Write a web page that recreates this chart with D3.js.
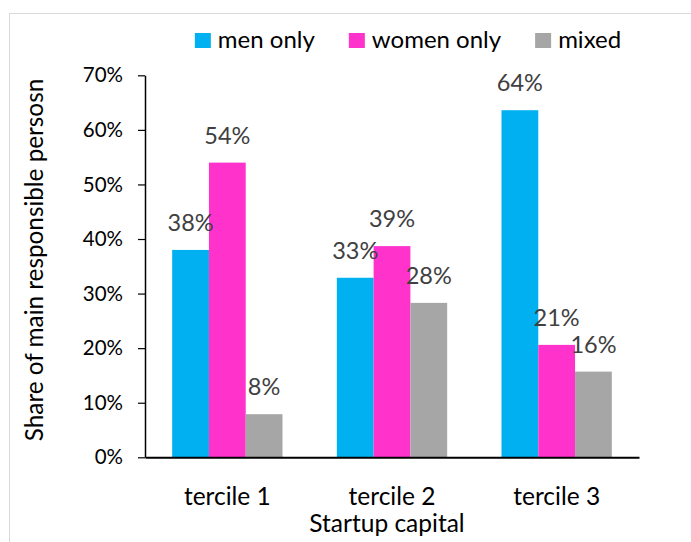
<!DOCTYPE html>
<html>
<head>
<meta charset="utf-8">
<script src="https://cdn.jsdelivr.net/npm/d3@7"></script>
<style>
  html, body { margin: 0; padding: 0; background: #fff; }
  svg { display: block; font-family: Lato, "Open Sans", sans-serif; }
</style>
</head>
<body>
<svg id="chart" width="691" height="542"></svg>
<script>
// ---- data ----
const categories = ["tercile 1", "tercile 2", "tercile 3"];
const seriesNames = ["men only", "women only", "mixed"];
const menOnly   = [0.380, 0.329, 0.636];
const womenOnly = [0.540, 0.387, 0.206];
const mixed     = [0.079, 0.283, 0.157];
const yTicks = [0, 0.1, 0.2, 0.3, 0.4, 0.5, 0.6, 0.7];
const colors = ["#00B0F0", "#FF33CC", "#A6A6A6"];
const xTitle = "Startup capital";
const yTitle = "Share of main responsible persosn";

const seriesValues = [menOnly, womenOnly, mixed];
const rows = categories.map((c, i) => ({
  category: c,
  values: seriesNames.map((s, j) => ({ series: s, value: seriesValues[j][i] }))
}));

const svg = d3.select("#chart");

// outer frame
svg.append("rect")
  .attr("x", 9.5).attr("y", 13.5)
  .attr("width", 700).attr("height", 560)
  .attr("fill", "none").attr("stroke", "#D9D9D9").attr("stroke-width", 1);

const plot = { left: 145, right: 639, top: 75.3, bottom: 457.3 };

const x0 = d3.scaleBand()
  .domain(categories)
  .range([plot.left, plot.right])
  .paddingInner(0.33)
  .paddingOuter(0.165);

const x1 = d3.scaleBand()
  .domain(seriesNames)
  .range([0, x0.bandwidth()])
  .padding(0);

const y = d3.scaleLinear()
  .domain([0, 0.7])
  .range([plot.bottom, plot.top]);

const color = d3.scaleOrdinal().domain(seriesNames).range(colors);

// bars
const groups = svg.append("g").selectAll("g")
  .data(rows).join("g")
  .attr("transform", d => `translate(${x0(d.category)},0)`);

groups.selectAll("rect")
  .data(d => d.values).join("rect")
  .attr("x", d => x1(d.series))
  .attr("y", d => y(d.value))
  .attr("width", x1.bandwidth())
  .attr("height", d => y(0) - y(d.value))
  .attr("fill", d => color(d.series));

// data labels
groups.selectAll("text")
  .data(d => d.values).join("text")
  .attr("x", d => x1(d.series) + x1.bandwidth() / 2)
  .attr("y", d => y(d.value) - 19)
  .attr("text-anchor", "middle")
  .attr("font-size", 23.5)
  .attr("fill", "#404040")
  .text(d => d3.format(".0%")(d.value));

// y axis
const yAxis = svg.append("g")
  .attr("transform", `translate(${plot.left},0)`)
  .call(d3.axisLeft(y).tickValues(yTicks).tickFormat(d3.format(".0%"))
    .tickSizeInner(7).tickSizeOuter(0).tickPadding(15));
yAxis.select(".domain").attr("stroke", "#000").attr("stroke-width", 1.5);
yAxis.selectAll(".tick line").attr("stroke", "#000").attr("stroke-width", 1.2);
yAxis.selectAll(".tick text")
  .attr("font-size", 20.5).attr("fill", "#000")
  .attr("font-family", "Lato, sans-serif");

// x axis
const xAxis = svg.append("g")
  .attr("transform", `translate(0,${plot.bottom})`)
  .call(d3.axisBottom(x0).tickSize(0).tickPadding(30));
xAxis.select(".domain").attr("stroke", "#000").attr("stroke-width", 2);
xAxis.selectAll(".tick text")
  .attr("font-size", 24.5).attr("fill", "#000")
  .attr("font-family", "Lato, sans-serif");

// axis titles
svg.append("text")
  .attr("x", 387).attr("y", 532)
  .attr("text-anchor", "middle")
  .attr("font-size", 24.5).attr("fill", "#000")
  .text(xTitle);

svg.append("text")
  .attr("transform", "translate(43,260) rotate(-90)")
  .attr("text-anchor", "middle")
  .attr("font-size", 24.3).attr("fill", "#000")
  .text(yTitle);

// legend
const legend = svg.append("g");
const items = legend.selectAll("g").data(seriesNames).join("g");
items.append("rect")
  .attr("width", 16).attr("height", 15)
  .attr("y", 33)
  .attr("fill", d => color(d));
items.append("text")
  .attr("x", 23).attr("y", 47.5)
  .attr("font-size", 24).attr("fill", "#000")
  .text(d => d);
let cx = 0;
const offsets = [];
items.each(function() {
  offsets.push(cx);
  const w = d3.select(this).select("text").node().getComputedTextLength();
  cx += 23 + w + 34;
});
const totalW = cx - 34;
const startX = 408 - totalW / 2;
items.attr("transform", (d, i) => `translate(${startX + offsets[i]},0)`);
</script>
</body>
</html>
